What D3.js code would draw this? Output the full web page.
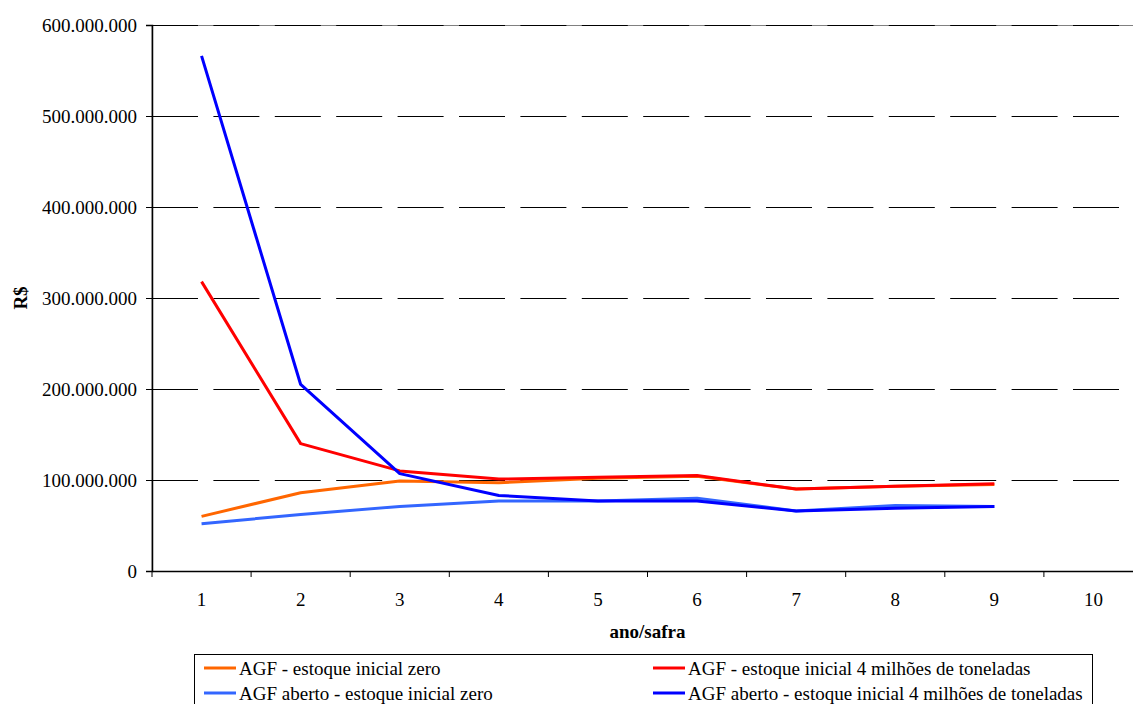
<!DOCTYPE html>
<html>
<head>
<meta charset="utf-8">
<script src="https://cdn.jsdelivr.net/npm/d3@7"></script>
</head>
<body>
<svg id="grafico" width="1133" height="704"></svg>
<script>
// Anos/safras e custos (R$) por cenário
const safras = [1, 2, 3, 4, 5, 6, 7, 8, 9, 10];
const agfZero = [60e6, 86e6, 99e6, 97e6, 102e6, 104e6, 90e6, 93e6, 95e6];
const agf4M = [318e6, 140e6, 110e6, 101e6, 103e6, 105e6, 90e6, 93e6, 96e6];
const agfAbertoZero = [52e6, 62e6, 71e6, 77e6, 77e6, 80e6, 66e6, 72e6, 71e6];
const agfAberto4M = [566e6, 205e6, 107e6, 83e6, 77e6, 77e6, 66e6, 69e6, 71e6];
const yTicks = [0, 100e6, 200e6, 300e6, 400e6, 500e6, 600e6];

const seriesNames = [
  "AGF - estoque inicial zero",
  "AGF - estoque inicial 4 milhões de toneladas",
  "AGF aberto - estoque inicial zero",
  "AGF aberto - estoque inicial 4 milhões de toneladas"
];
const seriesValues = [agfZero, agf4M, agfAbertoZero, agfAberto4M];
const seriesColors = ["#FF6600", "#FF0000", "#3366FF", "#0000FF"];

const FONT = "'Liberation Serif'";

d3.select("body").style("margin", "0px").style("background", "#fff");
const svg = d3.select("#grafico").style("display", "block");
const plotLeft = 152, plotTop = 25, plotRight = 1143, plotBottom = 571;

const x = d3.scaleBand().domain(safras).range([plotLeft, plotRight]).padding(0);
const y = d3.scaleLinear().domain([0, 600e6]).range([plotBottom, plotTop]);

const ptBR = d3.formatLocale({ decimal: ",", thousands: ".", grouping: [3], currency: ["R$", ""] });
const fmt = ptBR.format(",d");

// Aplica a fonte serifada aos textos
function serif(sel, bold) {
  sel.style("font-family", FONT).style("font-size", "19px");
  if (bold) sel.style("font-weight", "bold");
  return sel;
}

// Moldura da área de plotagem
svg.append("rect")
  .attr("x", plotLeft).attr("y", plotTop + 0.5)
  .attr("width", plotRight - plotLeft).attr("height", plotBottom - plotTop)
  .attr("fill", "none").attr("stroke", "#808080").attr("stroke-width", 1);

// Linhas de grade tracejadas
svg.append("g").selectAll("line")
  .data(yTicks.filter(d => d > 0))
  .join("line")
  .attr("x1", plotLeft).attr("x2", plotRight)
  .attr("y1", d => Math.round(y(d)) + 0.5).attr("y2", d => Math.round(y(d)) + 0.5)
  .attr("stroke", "#000").attr("stroke-width", 1)
  .attr("stroke-dasharray", "46,15.4");

// Eixo Y
const yAxis = svg.append("g")
  .attr("transform", `translate(${plotLeft},0)`)
  .call(d3.axisLeft(y).tickValues(yTicks).tickFormat(fmt).tickSize(6).tickPadding(9));
yAxis.select(".domain").attr("stroke", "#000").attr("stroke-width", 1.5);
yAxis.selectAll(".tick line").attr("stroke", "#000");
serif(yAxis.selectAll(".tick text"))
  .attr("fill", "#000")
  .attr("dy", "0.33em");

// Eixo X: rótulos centrados nas categorias, marcas nas divisões
const xAxis = svg.append("g")
  .attr("transform", `translate(0,${plotBottom})`)
  .call(d3.axisBottom(x).tickSize(0).tickPadding(0));
xAxis.select(".domain").attr("stroke", "#000").attr("stroke-width", 1.5);
serif(xAxis.selectAll(".tick text"))
  .attr("fill", "#000")
  .attr("y", 35).attr("dy", 0);
xAxis.append("g").selectAll("line")
  .data(d3.range(safras.length + 1))
  .join("line")
  .attr("x1", i => plotLeft + i * x.step()).attr("x2", i => plotLeft + i * x.step())
  .attr("y1", 0).attr("y2", 6)
  .attr("stroke", "#000").attr("stroke-width", 1);

// Títulos dos eixos
serif(svg.append("text"), true)
  .attr("x", (plotLeft + plotRight) / 2).attr("y", 638)
  .attr("text-anchor", "middle")
  .text("ano/safra");
serif(svg.append("text"), true)
  .attr("transform", `translate(27,${(plotTop + plotBottom) / 2}) rotate(-90)`)
  .attr("text-anchor", "middle")
  .text("R$");

// Séries
const line = d3.line()
  .x((d, i) => x(safras[i]) + x.bandwidth() / 2)
  .y(d => y(d));
svg.append("g").selectAll("path")
  .data(seriesValues)
  .join("path")
  .attr("d", d => line(d))
  .attr("fill", "none")
  .attr("stroke", (d, i) => seriesColors[i])
  .attr("stroke-width", 3)
  .attr("stroke-linejoin", "round");

// Legenda
const legend = svg.append("g");
legend.append("rect")
  .attr("x", 194.5).attr("y", 654.5)
  .attr("width", 898).attr("height", 80)
  .attr("fill", "#fff").attr("stroke", "#000").attr("stroke-width", 1);
const legendPos = [
  { lx: 204, ty: 668 }, { lx: 653, ty: 668 },
  { lx: 204, ty: 693 }, { lx: 653, ty: 693 }
];
const items = legend.selectAll("g.item")
  .data(seriesNames)
  .join("g").attr("class", "item")
  .attr("transform", (d, i) => `translate(${legendPos[i].lx},${legendPos[i].ty})`);
items.append("line")
  .attr("x1", 0).attr("x2", 32).attr("y1", 0).attr("y2", 0)
  .attr("stroke", (d, i) => seriesColors[i]).attr("stroke-width", 3);
serif(items.append("text"))
  .attr("x", 35).attr("y", 7)
  .attr("fill", "#000")
  .text(d => d);
</script>
</body>
</html>
